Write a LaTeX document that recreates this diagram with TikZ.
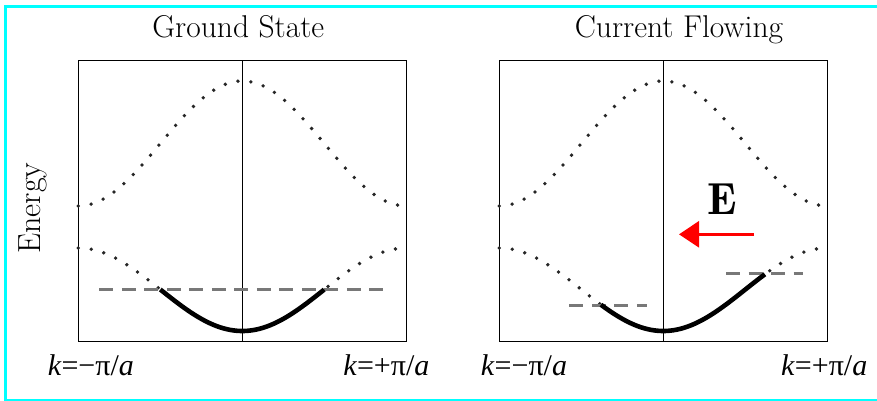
\documentclass[tikz,border=0pt]{standalone}
\usepackage{fontspec}
\newfontfamily\klabfont{Liberation Serif}
\usetikzlibrary{arrows.meta}
\definecolor{framecyan}{RGB}{0,255,255}
\definecolor{dashgray}{RGB}{120,120,120}
\tikzset{
  boxline/.style={line width=1.3pt, black},
  dotband/.style={line width=3.8pt, line cap=round, dash pattern=on 0pt off 13pt, black!85},
  occupied/.style={line width=4.6pt, black},
  fermi/.style={line width=3pt, dashgray, dash pattern=on 14pt off 8.5pt},
  titletext/.style={font=\fontsize{31.5}{36}\selectfont, anchor=base},
  klab/.style={font=\klabfont\fontsize{30}{34}\selectfont, anchor=base},
  efield/.style={line width=2.5pt, red, -{Triangle[length=20pt,width=26pt]}}
}
\begin{document}
\begin{tikzpicture}[x=1pt,y=-1pt]
\useasboundingbox (0,0) rectangle (877,401);
\begin{scope}
\clip (0,0) rectangle (877,401);
\coordinate (fr1) at (877,6.5);
\coordinate (fr2) at (5.5,6.5);
\coordinate (fr3) at (5.5,400.5);
\coordinate (fr4) at (877,400.5);
\draw[framecyan, line width=3pt] (fr1) -- (fr2) -- (fr3) -- (fr4);
\end{scope}

% ---------- left panel ----------
\node[titletext] (t1) at (238.3,38) {Ground State};
\node[draw, boxline, minimum width=328pt, minimum height=281pt, inner sep=0pt] (b1) at (242.3,201.2) {};
\coordinate (b1top) at (242.3,60.7);
\coordinate (b1bot) at (242.3,341.7);
\draw[boxline] (b1top) -- (b1bot);
\draw[dotband] plot[domain=-1:1, samples=120] ({242.3+164*\x}, {143.5-62.5*cos(180*\x)});
\draw[dotband] plot[domain=-1:1, samples=120] ({242.3+164*\x}, {289.5+41.5*cos(180*\x)});
\coordinate (f1a) at (99.3,289.3);
\coordinate (f1b) at (382.7,289.3);
\draw[fermi] (f1a) -- (f1b);
\draw[occupied] plot[domain=-0.5:0.5, samples=80] ({242.3+164*\x}, {289.5+41.5*cos(180*\x)});
\node[font=\fontsize{32}{36}\selectfont, rotate=90] (en) at (33,208) {Energy};
\node[klab] (k1l) at (90.8,375) {\textit{k}=−π/\textit{a}};
\node[klab] (k1r) at (386.3,375) {\textit{k}=+π/\textit{a}};

% ---------- right panel ----------
\node[titletext] (t2) at (679,38) {Current Flowing};
\node[draw, boxline, minimum width=328pt, minimum height=281pt, inner sep=0pt] (b2) at (663.3,201.2) {};
\coordinate (b2top) at (663.3,60.7);
\coordinate (b2bot) at (663.3,341.7);
\draw[boxline] (b2top) -- (b2bot);
\draw[dotband] plot[domain=-1:1, samples=120] ({663.3+164*\x}, {143.5-62.5*cos(180*\x)});
\draw[dotband] plot[domain=-1:1, samples=120] ({663.3+164*\x}, {289.5+41.5*cos(180*\x)});
\coordinate (f2a) at (569.3,305.7);
\coordinate (f2b) at (646.7,305.7);
\coordinate (f2c) at (726,273.3);
\coordinate (f2d) at (802.7,273.3);
\draw[fermi] (f2a) -- (f2b);
\draw[fermi] (f2c) -- (f2d);
\draw[occupied] plot[domain=-0.38:0.62, samples=80] ({663.3+164*\x}, {289.5+41.5*cos(180*\x)});
\node[font=\fontsize{45}{50}\selectfont] (E) at (722.7,199) {$\mathbf{E}$};
\coordinate (ea) at (754,234.3);
\coordinate (eb) at (679,234.3);
\draw[efield] (ea) -- (eb);
\node[klab] (k2l) at (524,375) {\textit{k}=−π/\textit{a}};
\node[klab] (k2r) at (824.2,375) {\textit{k}=+π/\textit{a}};
\end{tikzpicture}
\end{document}
